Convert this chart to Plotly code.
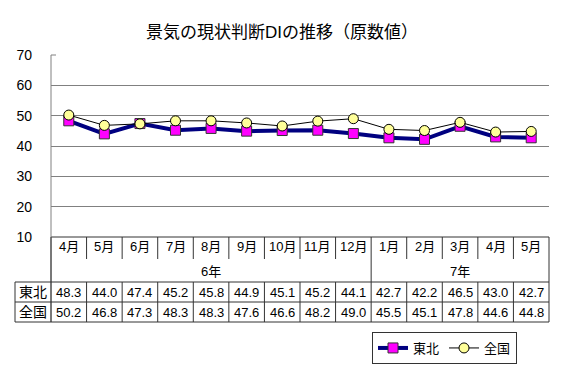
import plotly.graph_objects as go

months = ["4月", "5月", "6月", "7月", "8月", "9月", "10月", "11月", "12月",
          "1月", "2月", "3月", "4月", "5月"]
years = ["6年", "7年"]
year_spans = [9, 5]
tohoku = [48.3, 44.0, 47.4, 45.2, 45.8, 44.9, 45.1, 45.2, 44.1, 42.7, 42.2, 46.5, 43.0, 42.7]
zenkoku = [50.2, 46.8, 47.3, 48.3, 48.3, 47.6, 46.6, 48.2, 49.0, 45.5, 45.1, 47.8, 44.6, 44.8]
series_names = ["東北", "全国"]
yticks = [10, 20, 30, 40, 50, 60, 70]

W, H = 564, 382
L, R, T, B = 51, 15, 55, 145
PW, PH = W - L - R, H - T - B
FONT = "Liberation Sans, Arial, Noto Sans CJK JP, sans-serif"
LINE = "#333333"

def xp(px):
    return (px - L) / PW

def yp(py):
    return (H - B - py) / PH

n = len(months)
xs = list(range(n))

fig = go.Figure()
fig.add_trace(go.Scatter(
    x=xs, y=tohoku, name=series_names[0], mode="lines+markers",
    line=dict(color="#000080", width=4),
    marker=dict(symbol="square", size=10, color="#FF00FF", line=dict(color="#333333", width=1)),
))
fig.add_trace(go.Scatter(
    x=xs, y=zenkoku, name=series_names[1], mode="lines+markers",
    line=dict(color="#000000", width=1),
    marker=dict(symbol="circle", size=10, color="#FFFF99", line=dict(color="#000000", width=1)),
))

shapes = []
ann = []

def hline(x0, x1, py, color=LINE):
    shapes.append(dict(type="line", xref="paper", yref="paper", x0=x0, x1=x1, y0=yp(py), y1=yp(py),
                       line=dict(color=color, width=1)))

def vline(x, py0, py1, color=LINE):
    shapes.append(dict(type="line", xref="paper", yref="paper", x0=x, x1=x, y0=yp(py0), y1=yp(py1),
                       line=dict(color=color, width=1)))

shapes.append(dict(type="line", xref="paper", yref="paper", x0=0, x1=1, y0=1, y1=1,
                   line=dict(color="white", width=2)))
shapes.append(dict(type="line", xref="paper", yref="paper", x0=0, x1=xp(56), y0=1, y1=1,
                   line=dict(color="#808080", width=1)))

lab_left = xp(15)
hline(0, 1, 237)
year_breaks = [sum(year_spans[:i + 1]) for i in range(len(year_spans) - 1)]
for k in range(1, n):
    if k in year_breaks:
        vline(k / n, 237, 282)
    else:
        vline(k / n, 237, 259)
vline(0, 55, 322, "#808080")
vline(0, 237, 322)
vline(1, 237, 322)
for py in [282, 302, 322]:
    hline(lab_left, 1, py)
vline(lab_left, 282, 322)
for k in range(1, n):
    vline(k / n, 282, 322)

fs = 13
for i, m in enumerate(months):
    ann.append(dict(x=(i + 0.5) / n, y=yp(246), xref="paper", yref="paper", text=m, showarrow=False,
                    font=dict(size=fs, family=FONT, color="black"), xanchor="center", yanchor="middle"))
start = 0
for yname, span in zip(years, year_spans):
    ann.append(dict(x=(start + span / 2) / n, y=yp(271), xref="paper", yref="paper", text=yname,
                    showarrow=False, font=dict(size=fs, family=FONT, color="black"),
                    xanchor="center", yanchor="middle"))
    start += span
for row, (nm, vals) in enumerate(zip(series_names, [tohoku, zenkoku])):
    cy = 292 + 20 * row
    ann.append(dict(x=lab_left / 2, y=yp(cy), xref="paper", yref="paper", text=nm, showarrow=False,
                    font=dict(size=14, family=FONT, color="black"), xanchor="center", yanchor="middle"))
    for i, v in enumerate(vals):
        ann.append(dict(x=(i + 0.5) / n, y=yp(cy), xref="paper", yref="paper", text=f"{v:.1f}",
                        showarrow=False, font=dict(size=fs, family=FONT, color="black"),
                        xanchor="center", yanchor="middle"))

fig.update_layout(
    width=W, height=H,
    margin=dict(l=L, r=R, t=T, b=B),
    paper_bgcolor="white", plot_bgcolor="white",
    title=dict(text="景気の現状判断DIの推移（原数値）", x=0.5, xanchor="center", y=1 - 32 / H, yanchor="middle",
               font=dict(size=17, family=FONT, color="black")),
    xaxis=dict(range=[-0.5, n - 0.5], showticklabels=False, showgrid=False, zeroline=False,
               showline=False, ticks=""),
    yaxis=dict(range=[10, 70], tickvals=yticks, showgrid=True, gridcolor="#808080", gridwidth=1,
               zeroline=False, showline=False, ticks="", ticklabelstandoff=18,
               tickfont=dict(size=14, family=FONT, color="black")),
    showlegend=True,
    legend=dict(orientation="h", x=xp(372), y=yp(332), xanchor="left", yanchor="top",
                bordercolor="#333333", borderwidth=1, bgcolor="white",
                font=dict(size=13, family=FONT, color="black"), itemwidth=30,
                tracegroupgap=0),
    shapes=shapes, annotations=ann,
)
fig.write_html("out.html", config={"displayModeBar": False},
               post_script="document.body.style.margin='0';")
